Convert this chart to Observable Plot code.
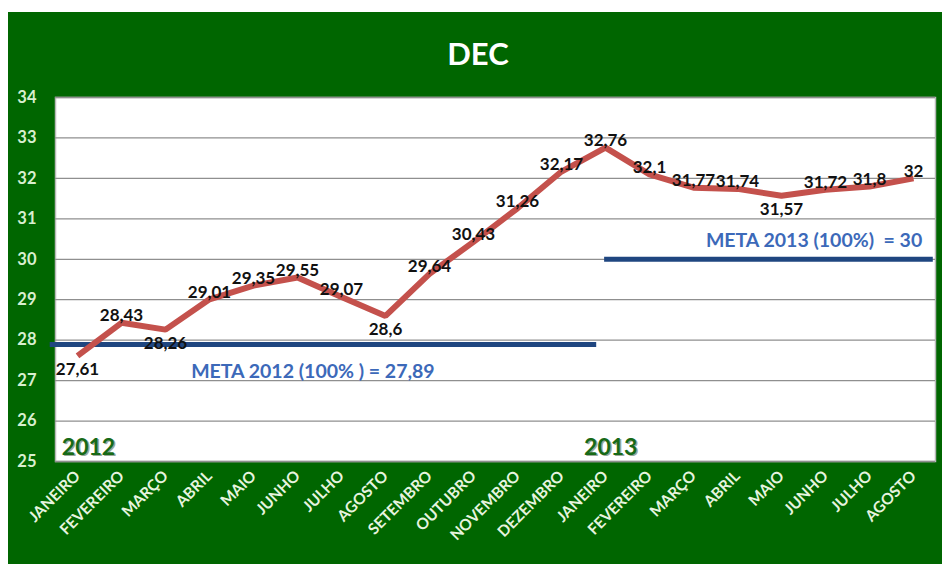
<!DOCTYPE html>
<html>
<head>
<meta charset="utf-8">
<script src="https://cdn.jsdelivr.net/npm/d3@7"></script>
<script src="https://cdn.jsdelivr.net/npm/@observablehq/plot@0.6"></script>
<style>
  html, body { margin: 0; padding: 0; background: #ffffff; width: 946px; height: 566px; overflow: hidden; }
  #frame { position: absolute; left: 8px; top: 12px; width: 934px; height: 552px; background: #006600; }
  #title { height: 68px; box-sizing: border-box; padding-top: 22px; line-height: 32px; text-align: center; color: #ffffff; font: bold 31px Lato, "Open Sans", sans-serif; padding-left: 6px; }
  #chart svg { display: block; }
</style>
</head>
<body>
<div id="frame">
  <div id="title">DEC</div>
  <div id="chart"></div>
</div>
<script>
const months2012 = ["JANEIRO","FEVEREIRO","MARÇO","ABRIL","MAIO","JUNHO","JULHO","AGOSTO","SETEMBRO","OUTUBRO","NOVEMBRO","DEZEMBRO"];
const months2013 = ["JANEIRO","FEVEREIRO","MARÇO","ABRIL","MAIO","JUNHO","JULHO","AGOSTO"];
const categories = months2012.concat(months2013);
const values = [27.61,28.43,28.26,29.01,29.35,29.55,29.07,28.6,29.64,30.43,31.26,32.17,32.76,32.1,31.77,31.74,31.57,31.72,31.8,32];
const yTicks = [25,26,27,28,29,30,31,32,33,34];
const goals = [
  {label: "META 2012 (100% ) = 27,89", value: 27.89, from: -0.62, to: 11.8, textAt: 5.35, textY: 27.22},
  {label: "META 2013 (100%)  = 30", value: 30, from: 11.98, to: 19.45, textAt: 16.74, textY: 30.45}
];
const years = [{label: "2012", at: 0.25}, {label: "2013", at: 12.12}];

const data = values.map((v, i) => {
  const prev = i > 0 ? values[i - 1] : Infinity;
  const next = i < values.length - 1 ? values[i + 1] : Infinity;
  const isMin = v < prev && v < next;
  return {i, v, label: String(v).replace(".", ","), below: isMin};
});

const font = "Lato, 'Open Sans', sans-serif";

const chart = Plot.plot({
  width: 934,
  height: 484,
  marginLeft: 47,
  marginRight: 7,
  marginTop: 17,
  marginBottom: 103,
  style: {background: "transparent", fontFamily: font, overflow: "visible"},
  x: {type: "linear", domain: [-0.5, 19.5]},
  y: {domain: [25, 34]},
  marks: [
    Plot.frame({fill: "#ffffff", stroke: "#b8b8b8", strokeWidth: 1.5}),
    Plot.gridY(yTicks, {stroke: "#8f8f8f", strokeOpacity: 1, strokeWidth: 1.3}),
    Plot.axisY({ticks: yTicks, tickSize: 0, tickPadding: 19, fill: "#d8efcf", fontSize: 16.5, fontWeight: "bold", label: null}),
    Plot.axisX({ticks: d3.range(categories.length), tickFormat: i => categories[i], tickRotate: -45, tickSize: 0, tickPadding: 12, fill: "#e6f4df", fontSize: 15.5, fontWeight: "bold", label: null}),
    Plot.ruleY(goals, {y: "value", x1: "from", x2: "to", stroke: "#1f4680", strokeWidth: 5, clip: false}),
    Plot.line(data, {x: "i", y: "v", stroke: "#c4514c", strokeWidth: 6, strokeLinejoin: "miter", strokeLinecap: "butt"}),
    Plot.text(data.filter(d => !d.below), {x: "i", y: "v", text: "label", dy: -7, fill: "#111111", fontSize: 17, fontWeight: "bold", fontFamily: font}),
    Plot.text(data.filter(d => d.below), {x: "i", y: "v", text: "label", dy: 14, fill: "#111111", fontSize: 17, fontWeight: "bold", fontFamily: font}),
    Plot.text(goals, {x: "textAt", y: "textY", text: "label", fill: "#3c69b9", fontSize: 19.5, fontWeight: "bold", fontFamily: font}),
    Plot.text(years, {x: "at", y: 25.35, text: "label", dx: 1.5, dy: 1.5, fill: "#9aa89a", fontSize: 23, fontWeight: "bold", fontFamily: font}),
    Plot.text(years, {x: "at", y: 25.35, text: "label", fill: "#176a17", fontSize: 23, fontWeight: "bold", fontFamily: font})
  ]
});
document.getElementById("chart").appendChild(chart);
</script>
</body>
</html>
